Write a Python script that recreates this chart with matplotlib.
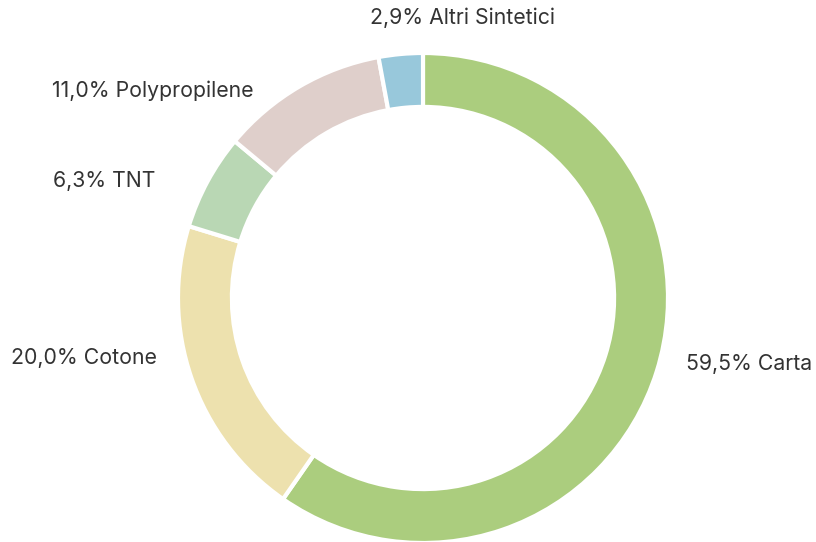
import matplotlib.pyplot as plt

labels = ["Carta", "Cotone", "TNT", "Polypropilene", "Altri Sintetici"]
values = [59.5, 20.0, 6.3, 11.0, 2.9]
colors = ["#abcd7e", "#ede1ae", "#b9d7b4", "#dfcfcb", "#98c8db"]

# label anchors (data units, radius = 1) and alignment
label_pos = [(1.073, -0.27), (-1.086, -0.245), (-1.094, 0.478),
             (-0.69, 0.845), (0.163, 1.143)]
label_ha = ["left", "right", "right", "right", "center"]

plt.rcParams['font.family'] = ['Inter', 'DejaVu Sans']

fig = plt.figure(figsize=(8.16, 5.42), dpi=100)
ax = fig.add_axes([0, 0, 1, 1])

ax.pie(values, colors=colors, startangle=90, counterclock=False,
       radius=1.0, wedgeprops=dict(width=0.22, edgecolor='white', linewidth=3))

for lab, v, (x, y), ha in zip(labels, values, label_pos, label_ha):
    txt = f"{v:.1f}% {lab}".replace(".", ",")
    ax.text(x, y, txt, ha=ha, va='center', fontsize=15.3, color='#333333')

# center at (423, 298) px, radius 245 px
ax.set_xlim(-423 / 245, (816 - 423) / 245)
ax.set_ylim(-(542 - 298) / 245, 298 / 245)
ax.set_aspect('auto')
ax.axis('off')

fig.savefig("out.png", dpi=100)
